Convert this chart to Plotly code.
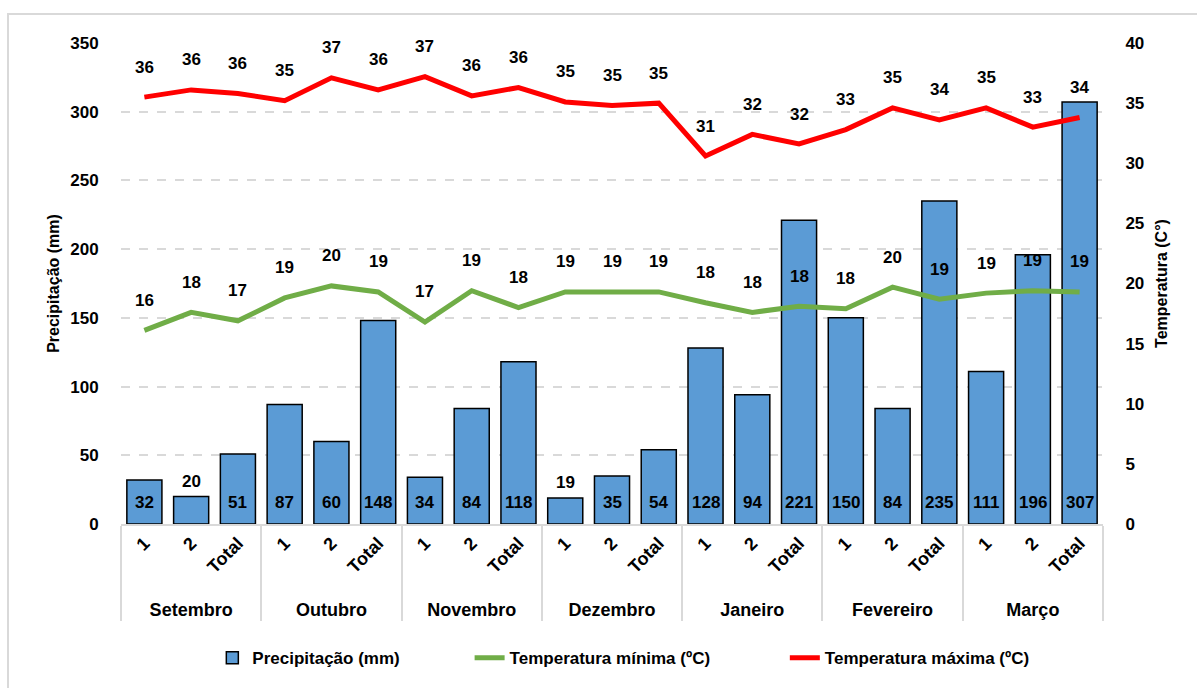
import plotly.graph_objects as go

# Monthly periods (1st half, 2nd half and month total)
months = ["Setembro", "Outubro", "Novembro", "Dezembro", "Janeiro", "Fevereiro", "Março"]
periods = ["1", "2", "Total"]

precipitacao = [32, 20, 51, 87, 60, 148, 34, 84, 118, 19, 35, 54,
                128, 94, 221, 150, 84, 235, 111, 196, 307]
temp_max = [35.5, 36.1, 35.8, 35.2, 37.1, 36.1, 37.2, 35.6, 36.3, 35.1, 34.8,
            35.0, 30.6, 32.4, 31.6, 32.8, 34.6, 33.6, 34.6, 33.0, 33.8]
temp_min = [16.1, 17.6, 16.9, 18.8, 19.8, 19.3, 16.8, 19.4, 18.0, 19.3, 19.3,
            19.3, 18.4, 17.6, 18.1, 17.9, 19.7, 18.7, 19.2, 19.4, 19.3]

x_month = [m for m in months for _ in periods]
x_period = [p for _ in months for p in periods]
x_cat = [x_month, x_period]

FONT = "Liberation Sans Narrow, Arial Narrow, Liberation Sans, Arial, sans-serif"
BLUE = "#5B9BD5"
GREEN = "#70AD47"
RED = "#FF0000"
GRID = "#D9D9D9"

fig = go.Figure()

fig.add_trace(go.Bar(
    x=x_cat, y=precipitacao, name="Precipitação (mm)",
    marker=dict(color=BLUE, line=dict(color="black", width=1.5)),
    yaxis="y", legend="legend",
))
fig.add_trace(go.Scatter(
    x=x_cat, y=temp_min, name="Temperatura mínima (ºC)", mode="lines",
    line=dict(color=GREEN, width=5), yaxis="y2", legend="legend2",
))
fig.add_trace(go.Scatter(
    x=x_cat, y=temp_max, name="Temperatura máxima (ºC)", mode="lines",
    line=dict(color=RED, width=5), yaxis="y2", legend="legend3",
))

label_font = dict(family=FONT, size=17, color="black", weight="bold")
annotations = []
# Precipitation labels: at the bar base, or above the bar when it is too short
for m, p, v in zip(x_month, x_period, precipitacao):
    small = v < 25
    annotations.append(dict(
        x=[m, p], y=v if small else 0, xref="x", yref="y",
        text=str(v), showarrow=False, font=label_font,
        yshift=15 if small else 22,
    ))
# Temperature labels above the line points
for series in (temp_min, temp_max):
    for m, p, v in zip(x_month, x_period, series):
        annotations.append(dict(
            x=[m, p], y=v, xref="x", yref="y2",
            text=f"{v:.0f}", showarrow=False, font=label_font,
            yshift=30,
        ))

legend_font = dict(family=FONT, size=17, color="black", weight="bold")
LEG_Y = -0.279


def legend_at(x):
    return dict(orientation="h", x=x, xanchor="left", y=LEG_Y, yanchor="middle",
                font=legend_font, bgcolor="rgba(0,0,0,0)")


fig.update_layout(
    width=1197, height=688,
    margin=dict(l=121, r=94, t=43, b=164),
    paper_bgcolor="white", plot_bgcolor="white",
    font=dict(family=FONT, size=16, color="black", weight="bold"),
    bargap=0.25,
    showlegend=True,
    legend=legend_at(0.093),
    legend2=legend_at(0.355),
    legend3=legend_at(0.676),
    xaxis=dict(
        type="multicategory", tickangle=-45, automargin=False,
        tickfont=dict(family=FONT, size=18, color="black", weight="bold"),
        showline=True, linecolor=GRID, linewidth=1.5,
        showdividers=True, dividercolor=GRID, dividerwidth=1.5,
        ticks="", showgrid=False,
    ),
    yaxis=dict(
        range=[0, 350], dtick=50, showgrid=True, gridcolor=GRID, griddash="dash",
        gridwidth=1.5, zeroline=False, ticks="outside", ticklen=18, tickcolor="white",
        automargin=False,
        tickfont=dict(family=FONT, size=17, color="black", weight="bold"),
        title=dict(text="Precipitação (mm)", standoff=6,
                   font=dict(family=FONT, size=16, color="black", weight="bold")),
    ),
    yaxis2=dict(
        range=[0, 40], dtick=5, overlaying="y", side="right", showgrid=False,
        zeroline=False, ticks="outside", ticklen=18, tickcolor="white",
        automargin=False,
        tickfont=dict(family=FONT, size=17, color="black", weight="bold"),
        title=dict(text="Temperatura (C°)", standoff=12,
                   font=dict(family=FONT, size=16, color="black", weight="bold")),
    ),
    annotations=annotations,
    shapes=[dict(type="rect", xref="paper", yref="paper",
                 x0=-113 / 982, x1=1.12, y0=-0.45, y1=1 + 29 / 481,
                 line=dict(color=GRID, width=2), fillcolor="rgba(0,0,0,0)",
                 layer="below")],
)

fig.write_html("out.html")
